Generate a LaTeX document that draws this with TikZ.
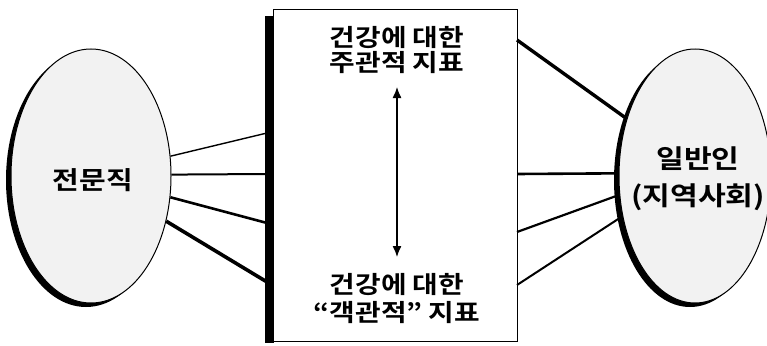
\documentclass[tikz,border=0pt]{standalone}
\usepackage{fontspec}
\newfontfamily\kr{Noto Sans CJK KR}[BoldFont={Noto Sans CJK KR Bold}, FakeStretch=1.16]
\usetikzlibrary{shapes.geometric,arrows.meta}
\begin{document}
\begin{tikzpicture}[x=1pt,y=-1pt,
  font=\kr\bfseries\fontsize{24}{25}\selectfont,
  oval/.style={ellipse, draw=black, line width=1pt, fill=gray!10, inner sep=0pt},
  ovalshadow/.style={fill=black},
  sheet/.style={draw=black, line width=1.3pt, fill=white, inner sep=0pt, anchor=north west},
  label/.style={align=center, inner sep=0pt},
  link/.style={draw=black}]
\useasboundingbox (0,0) rectangle (767,345);
% left oval
\fill[ovalshadow] (86,180) ellipse [x radius=80, y radius=127];
\node[oval, minimum width=160pt, minimum height=254pt] (L) at (91,176) {};
\node[label, font=\kr\bfseries\fontsize{25}{25}\selectfont] (Lt) at (93,180) {전문직};
% right oval
\fill[ovalshadow] (690,180) ellipse [x radius=76, y radius=127];
\node[oval, minimum width=152pt, minimum height=254pt] (R) at (695,176) {};
\node[label, text width=140pt, font=\kr\bfseries\fontsize{26}{37}\selectfont] (Rt) at (698,179) {일반인\\(지역사회)};
% box
\fill[black] (265,16) rectangle (274,343);
\node[sheet, minimum width=244pt, minimum height=332pt] (B) at (273,9) {};
\node[label] (T1) at (397,50) {건강에 대한\\주관적 지표};
\node[label, font=\kr\bfseries\fontsize{24}{28}\selectfont] (T2) at (397,299) {건강에 대한\\“객관적” 지표};
\coordinate (a1) at (397,87);
\coordinate (a2) at (397,257);
\draw[{Latex[length=11pt,width=9pt]}-{Latex[length=11pt,width=9pt]}, line width=1.3pt] (a1) -- (a2);
% left connectors
\coordinate (bl1) at (267,133);
\coordinate (bl2) at (267,174);
\coordinate (bl3) at (267,223);
\coordinate (bl4) at (267,282);
\draw[link, line width=1.4pt] (L.14.9) -- (bl1);
\draw[link, line width=2pt] (L.1.5) -- (bl2);
\draw[link, line width=2.6pt] (L.-15.6) -- (bl3);
\draw[link, line width=3.6pt] (L.-31.9) -- (bl4);
% right connectors
\coordinate (br1) at (517,40);
\coordinate (br2) at (517,174);
\coordinate (br3) at (517,232);
\coordinate (br4) at (517,285);
\draw[link, line width=3.4pt] (br1) -- (R.140.7);
\draw[link, line width=2.6pt] (br2) -- (R.178.6);
\draw[link, line width=2.2pt] (br3) -- (R.194.4);
\draw[link, line width=2pt] (br4) -- (R.209.4);
\end{tikzpicture}
\end{document}
